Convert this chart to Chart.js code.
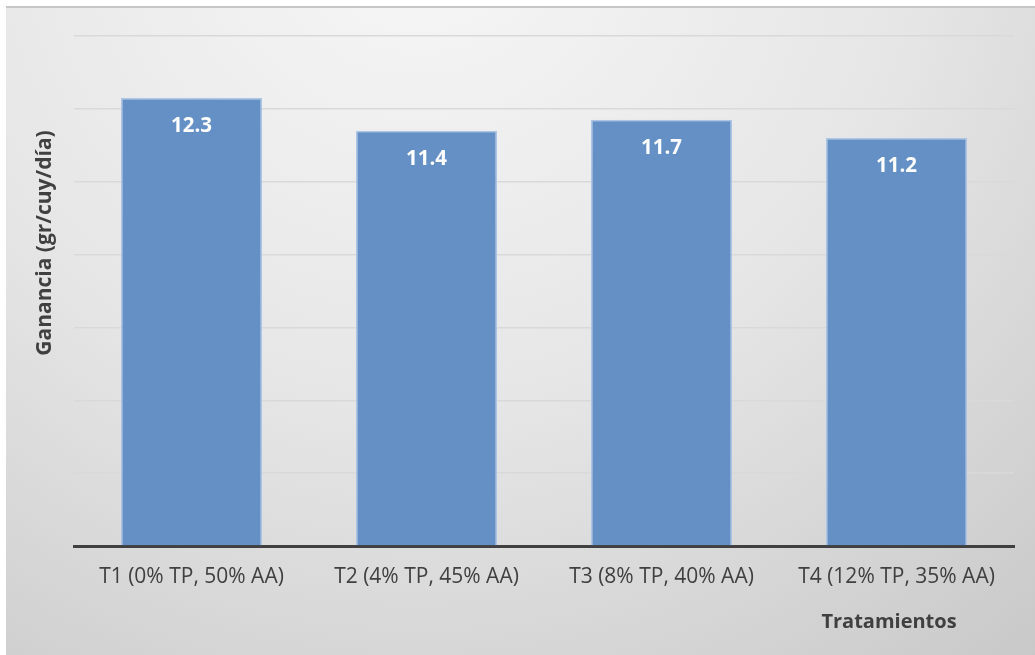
<!DOCTYPE html>
<html>
<head>
<meta charset="utf-8">
<script src="https://cdn.jsdelivr.net/npm/chart.js@4.4.0/dist/chart.umd.min.js"></script>
<style>
    body { margin: 0; background: #ffffff; }
    #wrap {
        position: absolute;
        left: 6px;
        top: 6px;
        width: 1029px;
        height: 649px;
        border-top: 2px solid #c6c6c6;
        box-sizing: border-box;
    }
</style>
</head>
<body>
<div id="wrap"><canvas id="chart"></canvas></div>
<script>
// datos del grafico
const categorias = ['T1 (0% TP, 50% AA)', 'T2 (4% TP, 45% AA)', 'T3 (8% TP, 40% AA)', 'T4 (12% TP, 35% AA)'];
const ganancia = [12.3, 11.4, 11.7, 11.2];
const ejeY = { min: 0, max: 14, paso: 2 };
const tituloY = 'Ganancia (gr/cuy/día)';
const tituloX = 'Tratamientos';

const FONT = '"Open Sans", sans-serif';

// fondo degradado gris
const fondo = {
    id: 'fondo',
    beforeDraw(chart) {
        const { ctx, width, height } = chart;
        const g = ctx.createRadialGradient(width * 0.4, -height * 0.15, 10, width * 0.4, -height * 0.15, width * 0.95);
        g.addColorStop(0, '#f7f7f7');
        g.addColorStop(0.5, '#e6e6e6');
        g.addColorStop(1, '#c8c8c8');
        ctx.save();
        ctx.fillStyle = g;
        ctx.fillRect(0, 0, width, height);
        ctx.restore();
    }
};

// etiquetas de valor y titulos de ejes
const etiquetas = {
    id: 'etiquetas',
    afterDatasetsDraw(chart) {
        const { ctx } = chart;
        const meta = chart.getDatasetMeta(0);
        ctx.save();
        ctx.fillStyle = '#ffffff';
        ctx.font = 'bold 20.5px ' + FONT;
        ctx.textAlign = 'center';
        ctx.textBaseline = 'middle';
        meta.data.forEach((bar, i) => {
            ctx.fillText(ganancia[i].toFixed(1), bar.x, bar.y + 28);
        });

        ctx.fillStyle = '#404040';
        ctx.font = 'bold 20px ' + FONT;
        ctx.fillText(tituloX, 883, 614);

        ctx.translate(39, 235);
        ctx.rotate(-Math.PI / 2);
        ctx.font = 'bold 21px ' + FONT;
        ctx.fillText(tituloY, 0, 0);
        ctx.restore();
    }
};

const ctx = document.getElementById('chart').getContext('2d');
const chart = new Chart(ctx, {
    type: 'bar',
    data: {
        labels: categorias,
        datasets: [{
            data: ganancia,
            backgroundColor: '#6590c6',
            borderColor: '#aac5e6',
            borderWidth: 1.5,
            categoryPercentage: 0.6,
            barPercentage: 1
        }]
    },
    options: {
        responsive: true,
        maintainAspectRatio: false,
        animation: false,
        layout: {
            padding: { left: 68, right: 21, top: 28, bottom: 0 }
        },
        plugins: {
            legend: { display: false },
            tooltip: { enabled: false }
        },
        scales: {
            x: {
                grid: { display: false, drawTicks: false },
                border: { color: '#404040', width: 3 },
                ticks: {
                    color: '#404040',
                    font: { family: FONT, size: 21 },
                    padding: 18,
                    maxRotation: 0
                },
                afterFit(s) { s.height = 109; }
            },
            y: {
                min: ejeY.min,
                max: ejeY.max,
                ticks: { display: false, stepSize: ejeY.paso },
                grid: { color: '#d9d9d9', lineWidth: 1.5, drawTicks: false },
                border: { display: false },
                afterFit(s) { s.width = 0; }
            }
        }
    },
    plugins: [fondo, etiquetas]
});
</script>
</body>
</html>
